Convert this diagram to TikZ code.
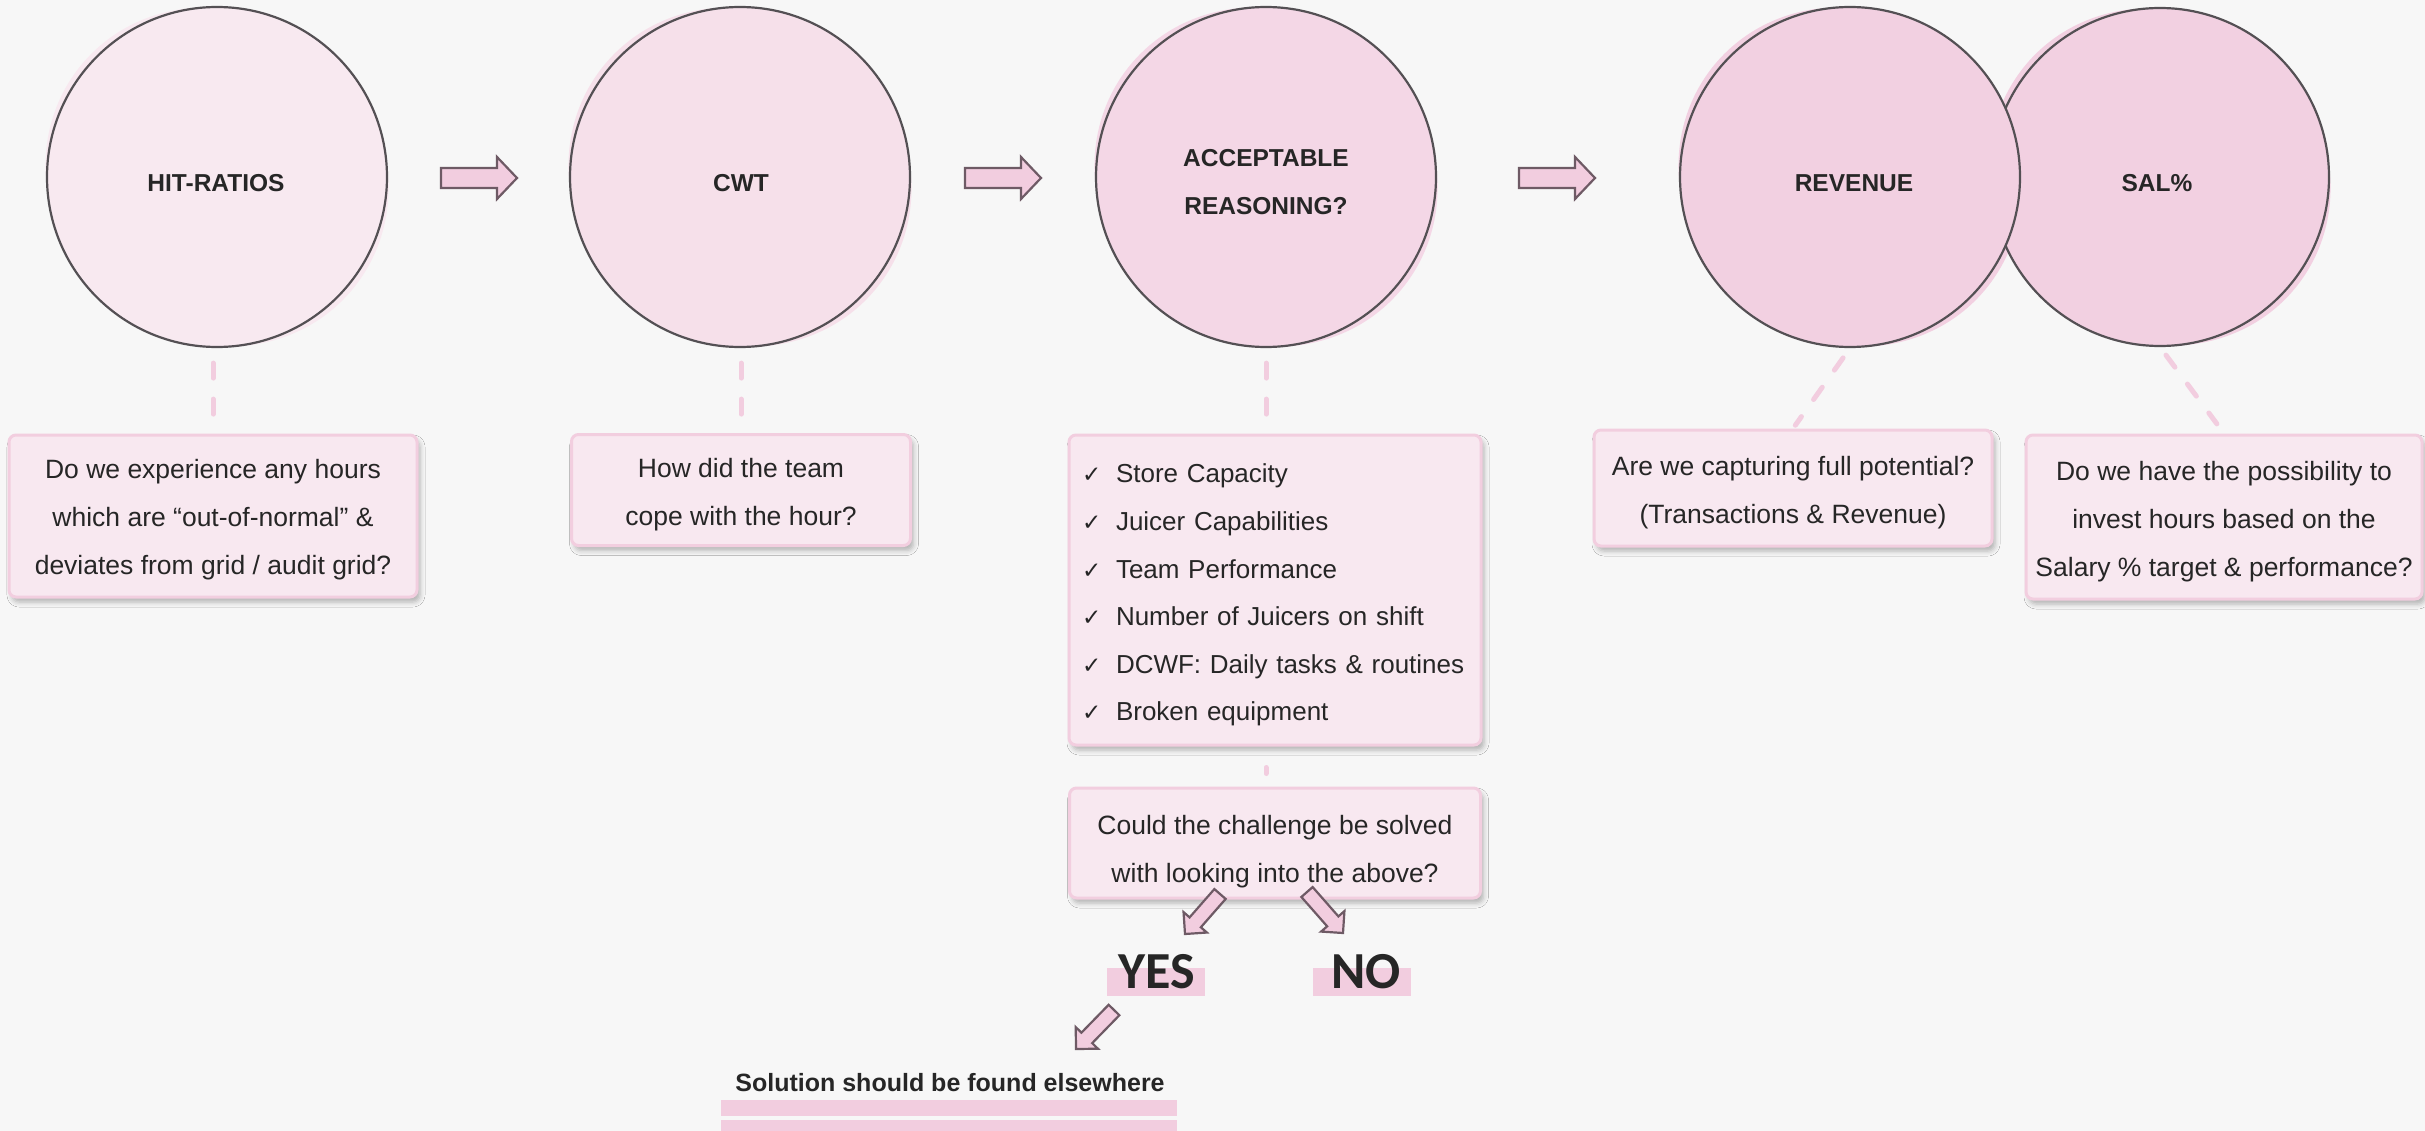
\documentclass[tikz,border=0pt]{standalone}
\usepackage{fontspec}
\setmainfont{Liberation Sans}
\newfontfamily\yesnofont{Carlito}
\newfontfamily\checkfont{DejaVu Sans}
\usetikzlibrary{calc,shadows.blur}

\definecolor{bgcol}{HTML}{F7F7F7}
\definecolor{ringcol}{HTML}{545054}
\definecolor{fillA}{HTML}{F8E9F0}
\definecolor{fillB}{HTML}{F6E0EA}
\definecolor{fillC}{HTML}{F4D7E6}
\definecolor{fillD}{HTML}{F2D0E1}
\definecolor{pinkmid}{HTML}{F2CDDF}
\definecolor{arrowline}{HTML}{6E5A65}
\definecolor{boxfill}{HTML}{F8E8F0}
\definecolor{boxline}{HTML}{F2CEDF}
\definecolor{inkcol}{HTML}{262626}

\tikzset{
  ring/.style={circle, draw=ringcol, line width=2.2pt, minimum size=340pt, inner sep=0pt},
  ringlabel/.style={font=\fontsize{24.5}{48}\selectfont\bfseries, text=inkcol, align=center, inner sep=0pt},
  qbox/.style={draw=boxline, fill=boxfill, line width=3pt, rounded corners=7pt, inner sep=0pt,
    font=\fontsize{26.5}{48}\selectfont, text=inkcol, align=center,
    blur shadow={shadow xshift=3pt, shadow yshift=-5pt, shadow blur radius=5pt, shadow opacity=28}},
  dashlink/.style={draw=pinkmid, line width=5pt, line cap=round, dash pattern=on 15pt off 21pt},
  blockarrow/.style={fill=pinkmid, draw=arrowline, line width=2.2pt, line join=miter},
  hilite/.style={fill=pinkmid, draw=none, inner sep=0pt},
  answer/.style={font={\yesnofont\fontsize{52}{52}\selectfont\bfseries}, text=inkcol, inner sep=0pt},
}

% block arrow from #1 to #2: shaft half width #3, head half width #4, head length #5
\newcommand{\blockarr}[5]{%
  \path ($(#2)!#5!(#1)$) coordinate (#1base);
  \filldraw[blockarrow] ($(#1)!#3!90:(#2)$) -- ($(#1base)!#3!90:(#2)$)
    -- ($(#1base)!#4!90:(#2)$) -- (#2) -- ($(#1base)!#4!-90:(#2)$)
    -- ($(#1base)!#3!-90:(#2)$) -- ($(#1)!#3!-90:(#2)$) -- cycle;
}
\newcommand{\chk}{\makebox[34pt][l]{\checkfont\fontsize{23}{23}\selectfont ✓}}
% extra room above the first line of a box
\newcommand{\topstrut}[1]{\rule{0pt}{#1}}

\begin{document}
\begin{tikzpicture}[x=1pt, y=-1pt]
\fill[bgcol] (0,0) rectangle (2425,1131);
\useasboundingbox (0,0) rectangle (2425,1131);

% soft pink washes behind the rings
\fill[fillA, rotate around={-40:(217,177)}] (217,177) ellipse [x radius=176pt, y radius=165pt];
\fill[fillB, rotate around={-40:(740,177)}] (740,177) ellipse [x radius=176pt, y radius=165pt];
\fill[fillC, rotate around={-40:(1266,177)}] (1266,177) ellipse [x radius=176pt, y radius=165pt];
\fill[fillD, rotate around={-40:(2160,177)}] (2160,177) ellipse [x radius=175pt, y radius=164pt];
\fill[fillD, rotate around={-40:(1850,177)}] (1850,177) ellipse [x radius=176pt, y radius=165pt];

% rings
\node[ring, fill=fillA] (hit) at (217,177) {};
\node[ring, fill=fillB] (cwt) at (740,177) {};
\node[ring, fill=fillC] (acc) at (1266,177) {};
\node[ring, fill=fillD, minimum size=338pt] (sal) at (2160,177) {};
\node[ring, fill=fillD] (rev) at (1850,177) {};

\node[ringlabel] (hitt) at (216,183) {HIT-RATIOS};
\node[ringlabel] (cwtt) at (741,183) {CWT};
\node[ringlabel] (acct) at (1266,182) {ACCEPTABLE\\REASONING?};
\node[ringlabel] (revt) at (1854,183) {REVENUE};
\node[ringlabel] (salt) at (2157,183) {SAL\%};

% question boxes
\node[qbox, minimum width=408pt, minimum height=162pt] (q1) at (213,516)
  {\topstrut{27pt}Do we experience any hours\\which are “out-of-normal” \&\\deviates from grid / audit grid?};
\node[qbox, minimum width=339pt, minimum height=111pt] (q2) at (741,490)
  {\topstrut{29pt}How did the team\\cope with the hour?};
\node[qbox, align=left, text width=386pt, inner xsep=13pt, minimum height=310pt,
      font=\fontsize{26}{47.6}\selectfont] (q3) at (1275,590)
  {\topstrut{29pt}\chk Store Capacity\\\chk Juicer Capabilities\\\chk Team Performance\\\chk Number of Juicers on shift\\\chk DCWF: Daily tasks \& routines\\\chk Broken equipment};
\node[qbox, minimum width=411pt, minimum height=110pt] (q4) at (1275,843)
  {\topstrut{37pt}Could the challenge be solved\\with looking into the above?};
\node[qbox, minimum width=398pt, minimum height=116pt] (q5) at (1793,488)
  {\topstrut{29pt}Are we capturing full potential?\\(Transactions \& Revenue)};
\node[qbox, minimum width=396pt, minimum height=164pt] (q6) at (2224,517)
  {\topstrut{29pt}Do we have the possibility to\\invest hours based on the\\Salary \% target \& performance?};

% dashed links from rings to boxes
\draw[dashlink, shorten <=15pt, shorten >=17pt] (q1.north |- hit.south) -- (q1.north);
\draw[dashlink, shorten <=15pt, shorten >=17pt] (q2.north |- cwt.south) -- (q2.north);
\draw[dashlink, shorten <=15pt, shorten >=17pt] (acc.south) -- (acc.south |- q3.north);
\draw[dashlink, shorten <=21pt, shorten >=13pt] (acc.south |- q3.south) -- (acc.south |- q4.north);
\draw[dashlink, shorten <=12pt, shorten >=4pt] (rev.south) -- (q5.north);
\draw[dashlink, shorten <=10pt, shorten >=12pt] (sal.south) -- (q6.north);

% block arrows between the rings
\coordinate (h1) at (441,178); \coordinate (h1e) at (517,178);
\coordinate (h2) at (965,178); \coordinate (h2e) at (1041,178);
\coordinate (h3) at (1519,178); \coordinate (h3e) at (1595,178);
\blockarr{h1}{h1e}{10pt}{21pt}{20pt}
\blockarr{h2}{h2e}{10pt}{21pt}{20pt}
\blockarr{h3}{h3e}{10pt}{21pt}{20pt}

% answers
\node[hilite, minimum width=98pt, minimum height=28pt] (yesbar) at (1156,982) {};
\node[answer, anchor=base] (yes) at (1157,988) {YES};
\node[hilite, minimum width=98pt, minimum height=28pt] (nobar) at (1362,982) {};
\node[answer, anchor=base] (no) at (1366,988) {NO};

\coordinate (ya) at (1220,894); \coordinate (yb) at (1185,934);
\coordinate (na) at (1307,892); \coordinate (nb) at (1343,933);
\coordinate (sa) at (1114,1010); \coordinate (sb) at (1076,1049);
\blockarr{ya}{yb}{7.5pt}{15.5pt}{15.5pt}
\blockarr{na}{nb}{7.5pt}{15.5pt}{15.5pt}
\blockarr{sa}{sb}{7.5pt}{15.5pt}{15.5pt}

\node[font=\fontsize{25}{25}\selectfont\bfseries, text=inkcol, anchor=base, inner sep=0pt] (sol) at (950,1091)
  {Solution should be found elsewhere};
\node[hilite, minimum width=456pt, minimum height=16pt] (solbar1) at (949,1108) {};
\node[hilite, minimum width=456pt, minimum height=12pt] (solbar2) at (949,1126) {};
\end{tikzpicture}
\end{document}
